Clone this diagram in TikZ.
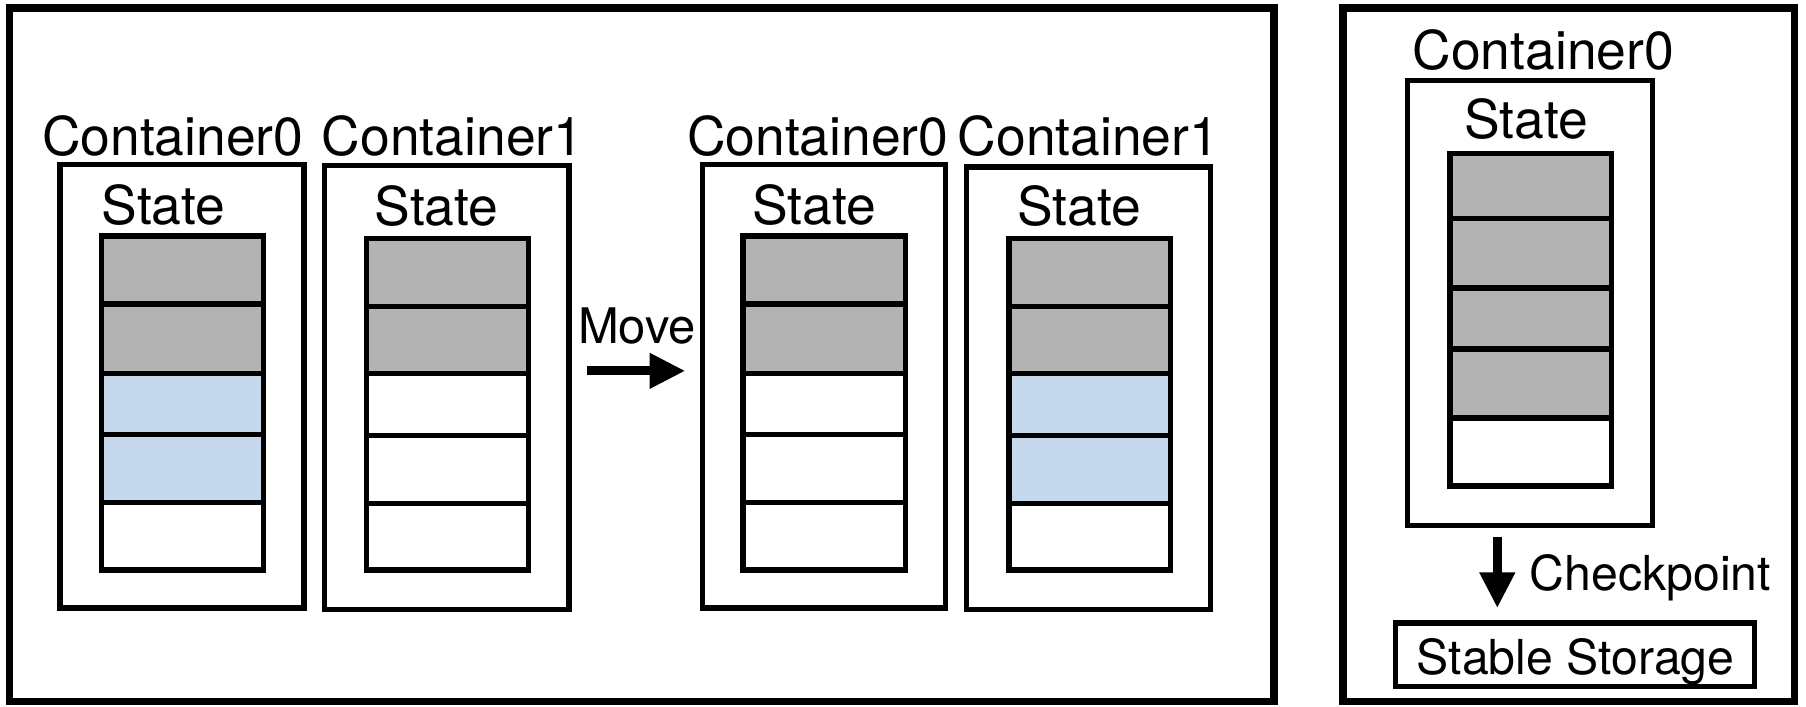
\documentclass[tikz,border=0pt]{standalone}
\usepackage{fontspec}
\setmainfont{TeX Gyre Heros}
\usetikzlibrary{arrows.meta}
\definecolor{cgray}{HTML}{B3B3B3}
\definecolor{cblue}{HTML}{C5D8EC}
\begin{document}
\begin{tikzpicture}[x=0.01cm,y=-0.01cm,
  outer/.style={draw,line width=1.8pt},
  cbox/.style={draw,line width=1.3pt},
  cell/.style={draw,line width=1.3pt},
  big/.style={font=\fontsize{13.2}{15}\selectfont,inner sep=0pt,anchor=base},
  small/.style={font=\fontsize{11.9}{14}\selectfont,inner sep=0pt,anchor=base},
  fat/.style={line width=2.2pt,-{Triangle[length=0.31cm,width=0.29cm]}}]
\useasboundingbox (0,0) rectangle (1568,613);
% outer frames
\draw[outer] (8,7) rectangle (1106,609);
\draw[outer] (1166,7) rectangle (1558,609);

% ---------- left group, before move ----------
\node[big] (l0) at (150,135) {Container0};
\draw[cbox] (52,143) rectangle (264,528);
\node[big] (s0) at (142,195) {State};
\foreach \ya/\yb/\col in {205/264/cgray,264/324/cgray,324/377/cblue,377/436/cblue,436/495/white}
  \draw[cell,fill=\col] (88,\ya) rectangle (229,\yb);

\node[big] (l1) at (393,135) {Container1};
\draw[cbox] (282,144) rectangle (494,529);
\node[big] (s1) at (379,196) {State};
\foreach \ya/\yb/\col in {207/266/cgray,266/324/cgray,324/378/white,378/437/white,437/495/white}
  \draw[cell,fill=\col] (318,\ya) rectangle (459,\yb);

% move arrow
\node[small,font=\fontsize{12.1}{14}\selectfont] (mv) at (553,298) {Move};
\coordinate (ma) at (510,322);
\coordinate (mb) at (595,322);
\draw[fat] (ma) -- (mb);

% ---------- left group, after move ----------
\node[big] (r0) at (710,135) {Container0};
\draw[cbox] (610,143) rectangle (821,528);
\node[big] (rs0) at (707,195) {State};
\foreach \ya/\yb/\col in {205/264/cgray,264/324/cgray,324/377/white,377/436/white,436/495/white}
  \draw[cell,fill=\col] (645,\ya) rectangle (786,\yb);

\node[big] (r1) at (945,135) {Container1};
\draw[cbox] (839,145) rectangle (1051,529);
\node[big] (rs1) at (937,196) {State};
\foreach \ya/\yb/\col in {207/266/cgray,266/324/cgray,324/378/cblue,378/437/cblue,437/495/white}
  \draw[cell,fill=\col] (876,\ya) rectangle (1016,\yb);

% ---------- right frame ----------
\node[big] (k0) at (1340,60) {Container0};
\draw[cbox] (1222,70) rectangle (1435,456);
\node[big] (ks) at (1325,120) {State};
\foreach \ya/\yb/\col in {133/190/cgray,190/250/cgray,250/303/cgray,303/363/cgray,363/422/white}
  \draw[cell,fill=\col] (1259,\ya) rectangle (1399,\yb);

\coordinate (ca) at (1300,466);
\coordinate (cb) at (1300,528);
\draw[fat] (ca) -- (cb);
\node[small] (cp) at (1433,513) {Checkpoint};
\node[cbox,minimum width=3.11cm,minimum height=0.55cm] (ss) at (1367.5,568.5) {};
\node[small] (sst) at (1368,586) {Stable Storage};
\end{tikzpicture}
\end{document}
